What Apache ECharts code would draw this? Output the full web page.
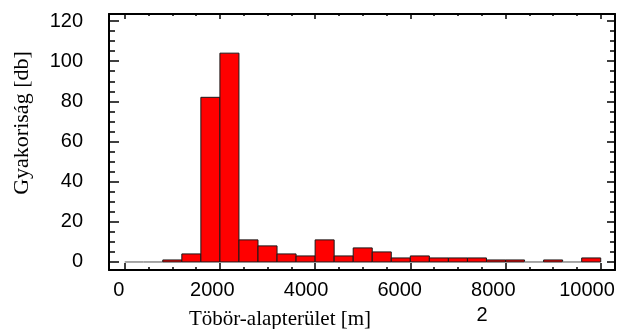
<!DOCTYPE html>
<html>
<head>
<meta charset="utf-8">
<script src="https://cdn.jsdelivr.net/npm/echarts@6/dist/echarts.min.js"></script>
<style>
  html, body { margin: 0; padding: 0; background: #fff; }
  #chart { width: 622px; height: 329px; }
</style>
</head>
<body>
<div id="chart"></div>
<script>
// hisztogram osztályai (bal és jobb szél, m2) és gyakoriságok
const binStart = [0, 400, 800, 1200, 1600, 2000, 2400, 2800, 3200, 3600, 4000, 4400, 4800,
  5200, 5600, 6000, 6400, 6800, 7200, 7600, 8000, 8400, 8800, 9200, 9600]
const binEnd = [400, 800, 1200, 1600, 2000, 2400, 2800, 3200, 3600, 4000, 4400, 4800, 5200,
  5600, 6000, 6400, 6800, 7200, 7600, 8000, 8400, 8800, 9200, 9600, 10000]
const counts = [0, 0, 1, 4, 82, 104, 11, 8, 4, 3, 11, 3, 7,
  5, 2, 3, 2, 2, 2, 1, 1, 0, 1, 0, 2]

const xMajorTicks = [0, 2000, 4000, 6000, 8000, 10000]
const xMinorTicks = [0, 500, 1000, 1500, 2000, 2500, 3000, 3500, 4000, 4500, 5000, 5500,
  6000, 6500, 7000, 7500, 8000, 8500, 9000, 9500, 10000]
const yMajorTicks = [0, 20, 40, 60, 80, 100, 120]
const yMinorTicks = [0, 5, 10, 15, 20, 25, 30, 35, 40, 45, 50, 55, 60, 65, 70, 75, 80, 85,
  90, 95, 100, 105, 110, 115, 120]

const xTitle = 'Töbör-alapterület [m]'
const yTitle = 'Gyakoriság [db]'

const X_MIN = -330, X_MAX = 10300
const Y_MIN = -4, Y_MAX = 123.5
// az eredeti ábrán a feliratok kicsit sűrűbben állnak, mint az osztások
const XL_MIN = -207, XL_MAX = 10598

const chart = echarts.init(document.getElementById('chart'))

const frameLine = { show: true, onZero: false, lineStyle: { color: '#000', width: 2 } }
const noLine = { show: false, onZero: false }
const labelFont = '"Liberation Sans", Arial, sans-serif'

// tengely készítő: fő és mellék osztások külön tengelyen
const makeX = (position, ticks, len, withLine) => ({
  type: 'value',
  position,
  min: X_MIN,
  max: X_MAX,
  axisLine: withLine ? frameLine : noLine,
  splitLine: { show: false },
  axisTick: { show: true, inside: true, length: len, customValues: ticks, lineStyle: { color: '#000', width: 1.5 } },
  axisLabel: { show: false }
})

const makeY = (position, ticks, len, withLabel, withLine) => ({
  type: 'value',
  position,
  min: Y_MIN,
  max: Y_MAX,
  axisLine: withLine ? frameLine : noLine,
  splitLine: { show: false },
  axisTick: { show: true, inside: true, length: len, customValues: ticks, lineStyle: { color: '#000', width: 1.5 } },
  axisLabel: withLabel
    ? { show: true, customValues: ticks, margin: 26, fontSize: 20, fontFamily: labelFont, color: '#000', formatter: v => String(v) }
    : { show: false }
})

const data = binStart.map((s, i) => [s, binEnd[i], counts[i]])

const option = {
  animation: false,
  grid: { left: 109, right: 7, top: 14, bottom: 59, containLabel: false, outerBoundsMode: 'none' },
  xAxis: [
    makeX('bottom', xMajorTicks, 7, true),
    makeX('bottom', xMinorTicks, 3, false),
    makeX('top', xMajorTicks, 5, true),
    makeX('top', xMinorTicks, 2, false),
    {
      type: 'value',
      position: 'bottom',
      min: XL_MIN,
      max: XL_MAX,
      axisLine: noLine,
      axisTick: { show: false },
      splitLine: { show: false },
      axisLabel: { show: true, customValues: xMajorTicks, margin: 10, fontSize: 20, fontFamily: labelFont, color: '#000', formatter: v => String(v) }
    }
  ],
  yAxis: [
    makeY('left', yMajorTicks, 10, true, true),
    makeY('left', yMinorTicks, 6, false, false),
    makeY('right', yMajorTicks, 8, false, true),
    makeY('right', yMinorTicks, 5, false, false)
  ],
  series: [{
    type: 'custom',
    xAxisIndex: 0,
    yAxisIndex: 0,
    data,
    renderItem: (params, api) => {
      const p0 = api.coord([api.value(0), 0])
      const p1 = api.coord([api.value(1), api.value(2)])
      if (api.value(2) === 0) {
        return {
          type: 'line',
          shape: { x1: p0[0], y1: p0[1], x2: p1[0], y2: p0[1] },
          style: { stroke: '#8a8a8a', lineWidth: 1.5 }
        }
      }
      return {
        type: 'rect',
        shape: { x: p0[0], y: p1[1], width: p1[0] - p0[0], height: p0[1] - p1[1] },
        style: { fill: '#ff0000', stroke: '#1a1a1a', lineWidth: 1 }
      }
    }
  }],
  graphic: [
    {
      type: 'text',
      x: 280, y: 319,
      style: { text: xTitle, font: '21px "Liberation Serif", "Times New Roman", serif', fill: '#000', textAlign: 'center', textVerticalAlign: 'middle' }
    },
    {
      type: 'text',
      x: 482, y: 315,
      style: { text: '2', font: '20px "Liberation Sans", Arial, sans-serif', fill: '#000', textAlign: 'center', textVerticalAlign: 'middle' }
    },
    {
      type: 'text',
      x: 22, y: 123,
      rotation: Math.PI / 2,
      style: { text: yTitle, font: '22px "Liberation Serif", "Times New Roman", serif', fill: '#000', textAlign: 'center', textVerticalAlign: 'middle' }
    }
  ]
}

chart.setOption(option)

window.addEventListener('resize', () => chart.resize())
</script>
</body>
</html>
